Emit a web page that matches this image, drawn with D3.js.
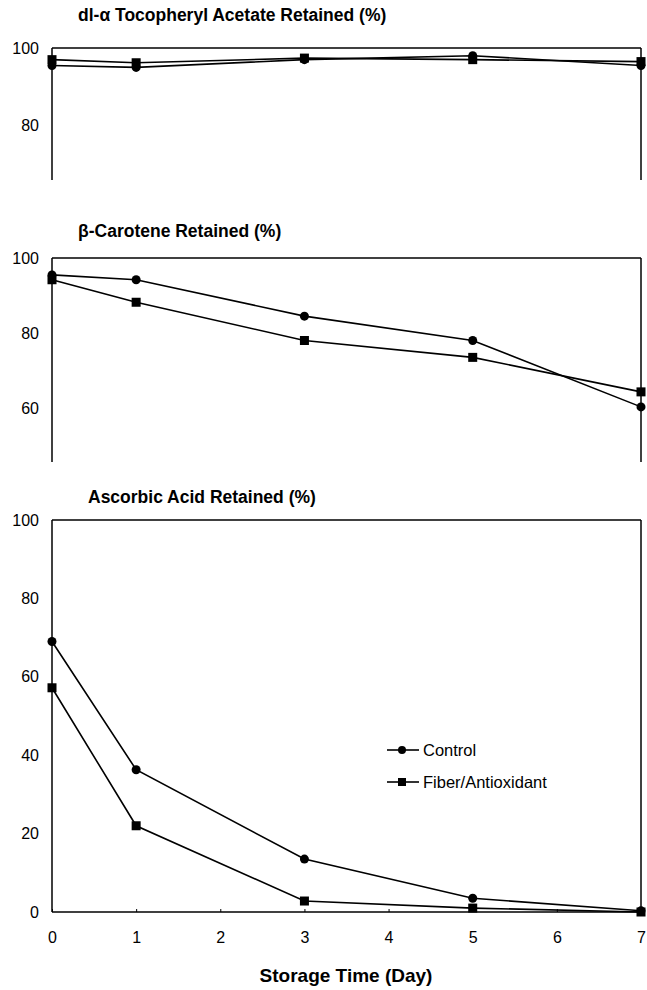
<!DOCTYPE html>
<html>
<head>
<meta charset="utf-8">
<script src="https://cdn.jsdelivr.net/npm/d3@7"></script>
<style>
  body { margin: 0; background: #fff; }
  text { font-family: "Liberation Sans", Arial, sans-serif; fill: #000; }
</style>
</head>
<body>
<svg width="647" height="990"></svg>
<script>
// storage days
const days = [0, 1, 3, 5, 7];
const xTicks = [0, 1, 2, 3, 4, 5, 6, 7];

// dl-alpha tocopheryl acetate retained (%)
const tocoControl = [95.5, 95.0, 97.0, 98.0, 95.5];
const tocoFiber = [97.0, 96.2, 97.4, 97.0, 96.5];
const tocoTicks = [80, 100];

// beta-carotene retained (%)
const caroControl = [95.5, 94.2, 84.5, 78.0, 60.3];
const caroFiber = [94.2, 88.2, 78.0, 73.5, 64.3];
const caroTicks = [60, 80, 100];

// ascorbic acid retained (%)
const ascControl = [69.0, 36.3, 13.5, 3.5, 0.3];
const ascFiber = [57.2, 22.0, 2.8, 1.0, 0.0];
const ascTicks = [0, 20, 40, 60, 80, 100];

const seriesNames = ["Control", "Fiber/Antioxidant"];

const svg = d3.select("svg");
const x = d3.scaleLinear().domain([0, 7]).range([52, 641]);

const panels = [
    { title: "dl-\u03B1 Tocopheryl Acetate Retained (%)", tx: 78, ty: 21,
      domain: [66, 100], range: [180, 48], ticks: tocoTicks,
      control: tocoControl, fiber: tocoFiber, bottom: false },
    { title: "\u03B2-Carotene Retained (%)", tx: 78, ty: 237,
      domain: [45.6, 100], range: [462, 258], ticks: caroTicks,
      control: caroControl, fiber: caroFiber, bottom: false },
    { title: "Ascorbic Acid Retained (%)", tx: 88, ty: 503,
      domain: [0, 100], range: [912, 520], ticks: ascTicks,
      control: ascControl, fiber: ascFiber, bottom: true }
];

const line = y => d3.line().x((d, i) => x(days[i])).y(d => y(d));

panels.forEach(p => {
    const y = d3.scaleLinear().domain(p.domain).range(p.range);
    const g = svg.append("g");

    g.append("text")
        .attr("x", p.tx).attr("y", p.ty)
        .attr("font-size", 17.5).attr("font-weight", "bold")
        .text(p.title);

    // frame: left, right, top (+ bottom for last panel)
    const x0 = x(0), x1 = x(7), yt = p.range[1], yb = p.range[0];
    const frame = [[x0, yb, x0, yt], [x0, yt, x1, yt], [x1, yt, x1, yb]];
    if (p.bottom) frame.push([x0, yb, x1, yb]);
    g.selectAll(".frame").data(frame).enter().append("line")
        .attr("x1", d => d[0]).attr("y1", d => d[1])
        .attr("x2", d => d[2]).attr("y2", d => d[3])
        .attr("stroke", "#000").attr("stroke-width", 1.5);

    const ay = g.append("g")
        .attr("transform", `translate(${x0 - 13},0)`)
        .call(d3.axisLeft(y).tickValues(p.ticks).tickSize(0).tickPadding(0)
            .tickFormat(d3.format("d")));
    ay.select(".domain").remove();
    ay.selectAll("text").attr("font-size", 16).attr("font-family", null);

    if (p.bottom) {
        const ax = g.append("g")
            .attr("transform", `translate(0,${yb})`)
            .call(d3.axisBottom(x).tickValues(xTicks).tickSize(-3).tickPadding(20)
                .tickFormat(d3.format("d")));
        ax.select(".domain").remove();
        ax.selectAll("line").attr("stroke-width", 1);
        ax.selectAll("text").attr("font-size", 16).attr("font-family", null);
    }

    [p.control, p.fiber].forEach((vals, si) => {
        g.append("path")
            .attr("d", line(y)(vals))
            .attr("fill", "none").attr("stroke", "#000").attr("stroke-width", 1.6);
        if (si === 0) {
            g.selectAll(".c").data(vals).enter().append("circle")
                .attr("cx", (d, i) => x(days[i])).attr("cy", d => y(d))
                .attr("r", 4.5).attr("fill", "#000");
        } else {
            g.selectAll(".s").data(vals).enter().append("rect")
                .attr("x", (d, i) => x(days[i]) - 4.5).attr("y", d => y(d) - 4.5)
                .attr("width", 9).attr("height", 9).attr("fill", "#000");
        }
    });
});

// legend
const leg = svg.append("g");
seriesNames.forEach((name, i) => {
    const ly = 750 + i * 32;
    leg.append("line").attr("x1", 387).attr("x2", 419).attr("y1", ly).attr("y2", ly)
        .attr("stroke", "#000").attr("stroke-width", 1.6);
    if (i === 0) leg.append("circle").attr("cx", 402).attr("cy", ly).attr("r", 4).attr("fill", "#000");
    else leg.append("rect").attr("x", 398).attr("y", ly - 4).attr("width", 8).attr("height", 8).attr("fill", "#000");
    leg.append("text").attr("x", 423).attr("y", ly + 6).attr("font-size", 16.5).text(name);
});

svg.append("text")
    .attr("x", 346).attr("y", 982).attr("text-anchor", "middle")
    .attr("font-size", 19).attr("font-weight", "bold")
    .text("Storage Time (Day)");
</script>
</body>
</html>
